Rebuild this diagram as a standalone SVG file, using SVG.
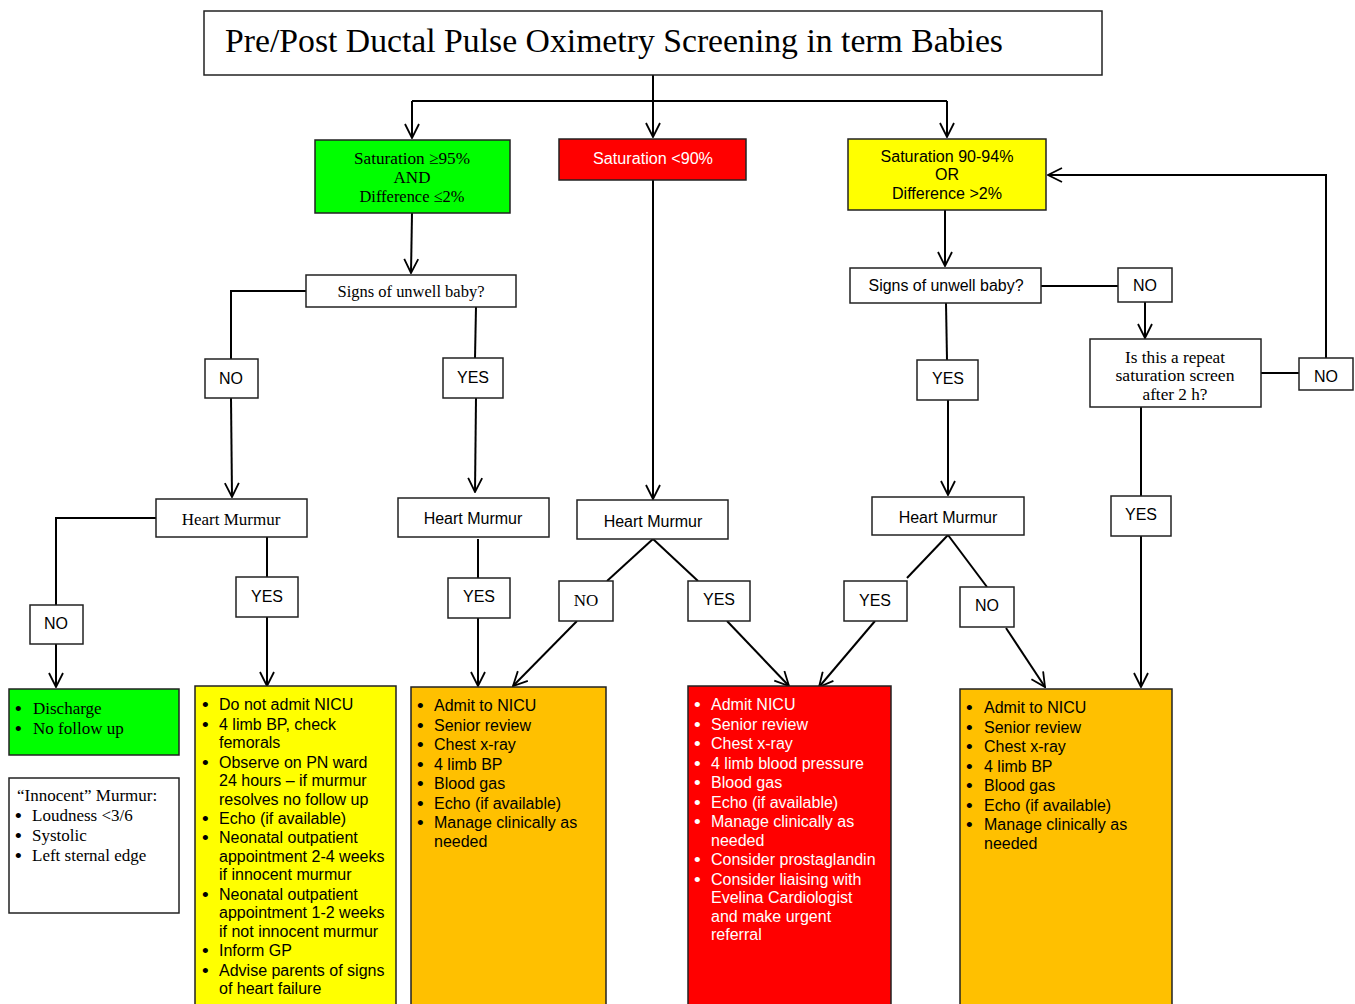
<svg xmlns="http://www.w3.org/2000/svg" width="1355" height="1004" viewBox="0 0 1355 1004">
<style>
.box{stroke:#222;stroke-width:1.5}
.w{fill:#fff}
.g{fill:#00ff00}
.r{fill:#ff0000}
.y{fill:#ffff00}
.o{fill:#ffc000}
.ln{stroke:#000;stroke-width:2;fill:none}
.sans{font-family:"Liberation Sans",Arial,sans-serif;font-size:16px;fill:#000}
.serif{font-family:"Liberation Serif","Times New Roman",serif;font-size:17px;fill:#000}
.lbl{font-family:"Liberation Sans",Arial,sans-serif;font-size:16px;fill:#000;text-anchor:middle}
.c{text-anchor:middle}
.wt{fill:#fff}
.b{font-size:19px}
</style>
<defs>
<marker id="ah" viewBox="0 0 16 16" refX="15" refY="8" markerWidth="16" markerHeight="16" markerUnits="userSpaceOnUse" orient="auto">
<path d="M1,1 L15,8 L1,15" fill="none" stroke="#000" stroke-width="1.8"/>
</marker>
</defs>
<rect width="1355" height="1004" fill="#fff"/>

<g id="connectors">
<path class="ln" d="M653,75 V101"/>
<path class="ln" d="M412,101 H947"/>
<path class="ln" d="M412,101 V138" marker-end="url(#ah)"/>
<path class="ln" d="M653,101 V137" marker-end="url(#ah)"/>
<path class="ln" d="M947,101 V137" marker-end="url(#ah)"/>
<path class="ln" d="M1326,358 V175 H1048" marker-end="url(#ah)"/>
<path class="ln" d="M412,213 L411,273" marker-end="url(#ah)"/>
<path class="ln" d="M306,291 H231 V359"/>
<path class="ln" d="M231,398 L232,497" marker-end="url(#ah)"/>
<path class="ln" d="M476,307 L475,358"/>
<path class="ln" d="M476,398 L475,492" marker-end="url(#ah)"/>
<path class="ln" d="M156,518 H56 V605"/>
<path class="ln" d="M56,644 V687" marker-end="url(#ah)"/>
<path class="ln" d="M267,537 V577"/>
<path class="ln" d="M267,617 V686" marker-end="url(#ah)"/>
<path class="ln" d="M478,539 V578"/>
<path class="ln" d="M478,618 V686" marker-end="url(#ah)"/>
<path class="ln" d="M653,180 V499" marker-end="url(#ah)"/>
<path class="ln" d="M653,539 L607,581"/>
<path class="ln" d="M653,539 L698,581"/>
<path class="ln" d="M577,621 L513,686" marker-end="url(#ah)"/>
<path class="ln" d="M727,621 L789,686" marker-end="url(#ah)"/>
<path class="ln" d="M945,210 V266" marker-end="url(#ah)"/>
<path class="ln" d="M1041,286 H1118"/>
<path class="ln" d="M1145,302 V338" marker-end="url(#ah)"/>
<path class="ln" d="M1261,373 H1299"/>
<path class="ln" d="M1141,407 V496"/>
<path class="ln" d="M1141,536 V687" marker-end="url(#ah)"/>
<path class="ln" d="M946,303 L947,360"/>
<path class="ln" d="M948,400 V495" marker-end="url(#ah)"/>
<path class="ln" d="M948,535 L907,578"/>
<path class="ln" d="M948,535 L987,587"/>
<path class="ln" d="M875,621 L819,687" marker-end="url(#ah)"/>
<path class="ln" d="M1006,628 L1045,687" marker-end="url(#ah)"/>
</g>

<g id="title">
<rect class="box w" x="204" y="11" width="898" height="64"/>
<text x="225" y="52" font-family="'Liberation Serif','Times New Roman',serif" font-size="33" textLength="778" lengthAdjust="spacingAndGlyphs" fill="#000">Pre/Post Ductal Pulse Oximetry Screening in term Babies</text>
</g>

<g id="sat-high">
<rect class="box g" x="315" y="140" width="195" height="73"/>
<text class="serif c" x="412" y="164" font-size="16" textLength="116" lengthAdjust="spacingAndGlyphs">Saturation ≥95%</text>
<text class="serif c" x="412" y="183" font-size="16">AND</text>
<text class="serif c" x="412" y="202" font-size="16" textLength="105" lengthAdjust="spacingAndGlyphs">Difference ≤2%</text>
</g>

<g id="sat-low">
<rect class="box r" x="559" y="139" width="187" height="41"/>
<text class="sans c wt" x="653" y="164" textLength="120" lengthAdjust="spacingAndGlyphs">Saturation &lt;90%</text>
</g>

<g id="sat-mid">
<rect class="box y" x="848" y="139" width="198" height="71"/>
<text class="sans c" x="947" y="162" textLength="133" lengthAdjust="spacingAndGlyphs">Saturation 90-94%</text>
<text class="sans c" x="947" y="180">OR</text>
<text class="sans c" x="947" y="199" textLength="110" lengthAdjust="spacingAndGlyphs">Difference &gt;2%</text>
</g>

<g id="signs-left">
<rect class="box w" x="306" y="275" width="210" height="32"/>
<text class="serif c" x="411" y="297" font-size="16" textLength="147" lengthAdjust="spacingAndGlyphs">Signs of unwell baby?</text>
</g>
<g id="no-1"><rect class="box w" x="205" y="359" width="53" height="39"/><text class="lbl" x="231" y="384">NO</text></g>
<g id="yes-1"><rect class="box w" x="443" y="358" width="60" height="40"/><text class="lbl" x="473" y="383">YES</text></g>

<g id="hm-1">
<rect class="box w" x="156" y="499" width="151" height="38"/>
<text class="serif c" x="231" y="525">Heart Murmur</text>
</g>
<g id="hm-2">
<rect class="box w" x="398" y="498" width="151" height="39"/>
<text class="sans c" x="473" y="524">Heart Murmur</text>
</g>
<g id="hm-3">
<rect class="box w" x="577" y="500" width="151" height="39"/>
<text class="sans c" x="653" y="527">Heart Murmur</text>
</g>

<g id="signs-right">
<rect class="box w" x="850" y="268" width="191" height="35"/>
<text class="sans c" x="946" y="291" textLength="155" lengthAdjust="spacingAndGlyphs">Signs of unwell baby?</text>
</g>
<g id="no-2"><rect class="box w" x="1118" y="268" width="54" height="34"/><text class="lbl" x="1145" y="291">NO</text></g>
<g id="repeat">
<rect class="box w" x="1090" y="339" width="171" height="68"/>
<text class="serif c" x="1175" y="363" font-size="16" textLength="100" lengthAdjust="spacingAndGlyphs">Is this a repeat</text>
<text class="serif c" x="1175" y="381" font-size="16" textLength="119" lengthAdjust="spacingAndGlyphs">saturation screen</text>
<text class="serif c" x="1175" y="400" font-size="16" textLength="65" lengthAdjust="spacingAndGlyphs">after 2 h?</text>
</g>
<g id="no-3"><rect class="box w" x="1299" y="358" width="54" height="32"/><text class="lbl" x="1326" y="382">NO</text></g>
<g id="yes-2"><rect class="box w" x="917" y="360" width="61" height="40"/><text class="lbl" x="948" y="384">YES</text></g>
<g id="yes-3"><rect class="box w" x="1111" y="496" width="60" height="40"/><text class="lbl" x="1141" y="520">YES</text></g>
<g id="hm-4">
<rect class="box w" x="872" y="497" width="152" height="38"/>
<text class="sans c" x="948" y="523">Heart Murmur</text>
</g>

<g id="no-4"><rect class="box w" x="30" y="605" width="53" height="39"/><text class="lbl" x="56" y="629">NO</text></g>
<g id="yes-4"><rect class="box w" x="236" y="577" width="62" height="40"/><text class="lbl" x="267" y="602">YES</text></g>
<g id="yes-5"><rect class="box w" x="448" y="578" width="62" height="40"/><text class="lbl" x="479" y="602">YES</text></g>
<g id="no-5"><rect class="box w" x="559" y="581" width="54" height="40"/><text class="serif c" x="586" y="606" font-size="16">NO</text></g>
<g id="yes-6"><rect class="box w" x="688" y="581" width="62" height="40"/><text class="lbl" x="719" y="605">YES</text></g>
<g id="yes-7"><rect class="box w" x="844" y="581" width="63" height="40"/><text class="lbl" x="875" y="606">YES</text></g>
<g id="no-6"><rect class="box w" x="960" y="587" width="54" height="40"/><text class="lbl" x="987" y="611">NO</text></g>

<g id="discharge">
<rect class="box g" x="9" y="689" width="170" height="66"/>
<text class="sans b" x="15" y="715">•</text><text class="serif" x="33" y="714">Discharge</text>
<text class="sans b" x="15" y="735">•</text><text class="serif" x="33" y="734">No follow up</text>
</g>

<g id="innocent">
<rect class="box w" x="9" y="778" width="170" height="135"/>
<text class="serif" x="17" y="801">“Innocent” Murmur:</text>
<text class="sans b" x="15" y="822">•</text><text class="serif" x="32" y="821">Loudness &lt;3/6</text>
<text class="sans b" x="15" y="842">•</text><text class="serif" x="32" y="841">Systolic</text>
<text class="sans b" x="15" y="862">•</text><text class="serif" x="32" y="861">Left sternal edge</text>
</g>

<g id="murmur-action">
<rect class="box y" x="195" y="686" width="201" height="330"/>
<g class="sans">
<text class="b" x="202" y="711">•</text><text x="219" y="710">Do not admit NICU</text>
<text class="b" x="202" y="731">•</text><text x="219" y="730">4 limb BP, check</text>
<text x="219" y="748">femorals</text>
<text class="b" x="202" y="769">•</text><text x="219" y="768">Observe on PN ward</text>
<text x="219" y="786">24 hours – if murmur</text>
<text x="219" y="805">resolves no follow up</text>
<text class="b" x="202" y="825">•</text><text x="219" y="824">Echo (if available)</text>
<text class="b" x="202" y="844">•</text><text x="219" y="843">Neonatal outpatient</text>
<text x="219" y="862">appointment 2-4 weeks</text>
<text x="219" y="880">if innocent murmur</text>
<text class="b" x="202" y="901">•</text><text x="219" y="900">Neonatal outpatient</text>
<text x="219" y="918">appointment 1-2 weeks</text>
<text x="219" y="937">if not innocent murmur</text>
<text class="b" x="202" y="957">•</text><text x="219" y="956">Inform GP</text>
<text class="b" x="202" y="977">•</text><text x="219" y="976">Advise parents of signs</text>
<text x="219" y="994">of heart failure</text>
</g>
</g>

<g id="admit-left">
<rect class="box o" x="411" y="687" width="195" height="330"/>
<g class="sans">
<text class="b" x="417" y="712">•</text><text x="434" y="711">Admit to NICU</text>
<text class="b" x="417" y="732">•</text><text x="434" y="731">Senior review</text>
<text class="b" x="417" y="751">•</text><text x="434" y="750">Chest x-ray</text>
<text class="b" x="417" y="771">•</text><text x="434" y="770">4 limb BP</text>
<text class="b" x="417" y="790">•</text><text x="434" y="789">Blood gas</text>
<text class="b" x="417" y="810">•</text><text x="434" y="809">Echo (if available)</text>
<text class="b" x="417" y="829">•</text><text x="434" y="828">Manage clinically as</text>
<text x="434" y="847">needed</text>
</g>
</g>

<g id="admit-urgent">
<rect class="box r" x="688" y="686" width="203" height="330"/>
<g class="sans">
<text class="wt b" x="694" y="711">•</text><text class="wt" x="711" y="710">Admit NICU</text>
<text class="wt b" x="694" y="731">•</text><text class="wt" x="711" y="730">Senior review</text>
<text class="wt b" x="694" y="750">•</text><text class="wt" x="711" y="749">Chest x-ray</text>
<text class="wt b" x="694" y="770">•</text><text class="wt" x="711" y="769">4 limb blood pressure</text>
<text class="wt b" x="694" y="789">•</text><text class="wt" x="711" y="788">Blood gas</text>
<text class="wt b" x="694" y="809">•</text><text class="wt" x="711" y="808">Echo (if available)</text>
<text class="wt b" x="694" y="828">•</text><text class="wt" x="711" y="827">Manage clinically as</text>
<text class="wt" x="711" y="846">needed</text>
<text class="wt b" x="694" y="866">•</text><text class="wt" x="711" y="865">Consider prostaglandin</text>
<text class="wt b" x="694" y="886">•</text><text class="wt" x="711" y="885">Consider liaising with</text>
<text class="wt" x="711" y="903">Evelina Cardiologist</text>
<text class="wt" x="711" y="922">and make urgent</text>
<text class="wt" x="711" y="940">referral</text>
</g>
</g>

<g id="admit-right">
<rect class="box o" x="960" y="689" width="212" height="330"/>
<g class="sans">
<text class="b" x="966" y="714">•</text><text x="984" y="713">Admit to NICU</text>
<text class="b" x="966" y="734">•</text><text x="984" y="733">Senior review</text>
<text class="b" x="966" y="753">•</text><text x="984" y="752">Chest x-ray</text>
<text class="b" x="966" y="773">•</text><text x="984" y="772">4 limb BP</text>
<text class="b" x="966" y="792">•</text><text x="984" y="791">Blood gas</text>
<text class="b" x="966" y="812">•</text><text x="984" y="811">Echo (if available)</text>
<text class="b" x="966" y="831">•</text><text x="984" y="830">Manage clinically as</text>
<text x="984" y="849">needed</text>
</g>
</g>
</svg>
